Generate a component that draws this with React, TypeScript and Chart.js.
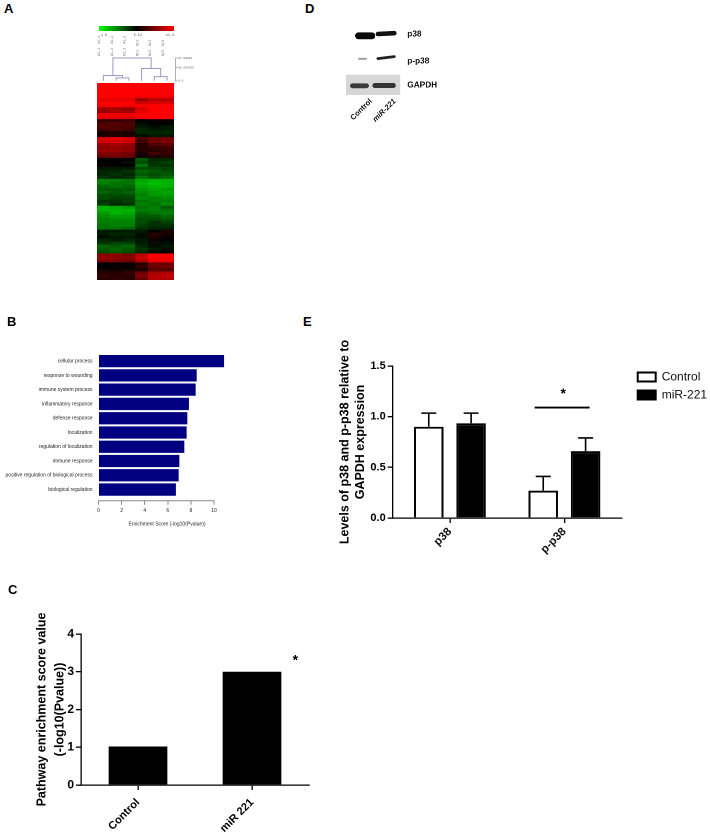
import React, { useEffect, useRef } from "react";
import Chart from "chart.js/auto";

const SANS = "'Liberation Sans', Arial, sans-serif";
const MONO = "'Liberation Mono', monospace";

// Panel A
const sampleNames = ["A1,1  A1,1", "A1,2  A1,2", "A1,3  A1,3", "NC1  NC1", "NC2  NC2", "NC3  NC3"];
const sampleColumns = ["S1", "S2", "S3", "S4", "S5", "S6"];
const colorScaleRange = [-1.5, 11.3];
const colorScaleTicks = [-1.5, 5.12, 11.3];
const distanceTicks = [0, 50.032755, 87.06891];
const distanceLabels = ["0.0", "50.032755", "87.06891"];
const dendrogramMerges = [
  [[1.5, 0], [1.5, 11], [2.5, 11], [2.5, 0]],
  [[0.5, 0], [0.5, 20], [2, 20], [2, 11]],
  [[4.5, 0], [4.5, 16], [5.5, 16], [5.5, 0]],
  [[3.5, 0], [3.5, 47], [5, 47], [5, 16]],
  [[1.25, 20], [1.25, 87], [4.25, 87], [4.25, 47]],
];
const heatRows = [
  [1, 1, 1, 1, 1, 1], [1, 1, 1, 1, 1, 1], [1, 1, 1, 1, 1, 1], [1, 1, 1, 1, 1, 1],
  [1, 1, 1, 0.95, 0.95, 0.95], [0.9, 0.9, 0.9, 0.6, 0.7, 0.7], [1, 1, 1, 0.8, 0.85, 0.85], [0.95, 1, 0.95, 1, 1, 1],
  [0.65, 0.65, 0.6, 0.85, 1, 1], [0.6, 0.65, 0.65, 0.9, 1, 1], [0.95, 0.95, 0.95, 1, 1, 1], [0.9, 0.9, 0.85, 0.95, 1, 1],
  [0.2, 0.2, 0.25, 0, 0.05, 0.05], [0.3, 0.35, 0.3, -0.05, 0, 0], [0.35, 0.3, 0.3, -0.1, -0.05, -0.1], [0.25, 0.3, 0.25, -0.15, -0.1, -0.1],
  [0.1, 0.1, 0.1, -0.15, -0.15, -0.15], [0.1, 0.15, 0.1, -0.05, -0.1, -0.1], [0.85, 0.9, 0.85, 0.3, 0.4, 0.45], [0.8, 0.85, 0.8, 0.25, 0.45, 0.5],
  [0.6, 0.65, 0.6, 0.15, 0.3, 0.35], [0.55, 0.6, 0.55, 0.15, 0.2, 0.25], [0.6, 0.6, 0.55, 0.15, 0.15, 0.2], [0.5, 0.5, 0.45, 0.1, 0.25, 0.2],
  [0.4, 0.45, 0.4, 0.05, 0.1, 0.15], [0, 0, 0, -0.35, -0.15, -0.15], [0, 0, -0.05, -0.3, -0.2, -0.25], [0.05, 0, 0, -0.45, -0.2, -0.2],
  [-0.1, -0.1, -0.1, -0.3, -0.3, -0.25], [-0.15, -0.15, -0.2, -0.4, -0.35, -0.3], [-0.15, -0.2, -0.15, -0.35, -0.3, -0.35], [-0.2, -0.15, -0.2, -0.45, -0.35, -0.4],
  [-0.5, -0.5, -0.45, -0.65, -0.7, -0.7], [-0.5, -0.45, -0.45, -0.7, -0.75, -0.7], [-0.4, -0.45, -0.4, -0.65, -0.7, -0.7], [-0.35, -0.35, -0.35, -0.6, -0.65, -0.6],
  [-0.4, -0.35, -0.4, -0.55, -0.6, -0.65], [-0.3, -0.3, -0.3, -0.5, -0.6, -0.6], [-0.3, -0.25, -0.25, -0.55, -0.5, -0.55], [-0.2, -0.2, -0.25, -0.45, -0.5, -0.5],
  [-0.25, -0.15, -0.2, -0.5, -0.45, -0.55], [-0.7, -0.65, -0.6, -0.45, -0.5, -0.35], [-0.7, -0.7, -0.7, -0.5, -0.5, -0.45], [-0.6, -0.7, -0.65, -0.4, -0.45, -0.5],
  [-0.55, -0.6, -0.6, -0.35, -0.35, -0.4], [-0.5, -0.55, -0.55, -0.3, -0.3, -0.35], [-0.5, -0.5, -0.5, -0.3, -0.2, -0.25], [-0.45, -0.5, -0.5, -0.25, -0.2, -0.2],
  [-0.45, -0.45, -0.4, -0.2, -0.15, -0.15], [-0.1, -0.1, -0.1, -0.1, 0, 0.1], [-0.1, -0.15, -0.15, -0.05, 0.15, 0.1], [-0.05, -0.1, -0.1, -0.05, 0.1, 0.05],
  [-0.15, -0.1, -0.15, -0.1, 0.05, 0], [-0.2, -0.25, -0.25, -0.1, -0.05, -0.05], [-0.4, -0.35, -0.4, -0.15, -0.05, -0.1], [-0.35, -0.4, -0.35, -0.2, -0.1, -0.05],
  [-0.3, -0.35, -0.3, -0.15, -0.05, 0], [0.55, 0.55, 0.5, 0.75, 1, 1], [0.6, 0.55, 0.55, 0.8, 1, 1], [0.5, 0.5, 0.45, 0.7, 0.9, 0.95],
  [0, 0, 0.05, 0.15, 0.45, 0.4], [0, 0.05, 0, 0.2, 0.4, 0.45], [0.1, 0.05, 0.1, 0.1, 0.35, 0.3], [0.15, 0.15, 0.2, 0.45, 0.65, 0.7],
  [0.2, 0.15, 0.15, 0.5, 0.7, 0.75], [0.15, 0.2, 0.15, 0.4, 0.7, 0.7],
];

// Panel B
const goTerms = [
  "cellular process", "response to wounding", "immune system process", "inflammatory response", "defense response",
  "localization", "regulation of localization", "immune response", "positive regulation of biological process", "biological regulation",
];
const goScores = [10.87, 8.5, 8.41, 7.83, 7.69, 7.63, 7.43, 7.0, 6.94, 6.7];
const enrichmentTicks = [0, 2, 4, 6, 8, 10];

// Panel C
const pathwayGroups = ["Control", "miR 221"];
const pathwayScores = [1.02, 3.0];

// Panel D
const blotLanes = [25, 49];
const blotLaneNames = ["Control", "miR-221"];
const blotRowPositions = [13, 40, 64];
const blotRowNames = ["p38", "p-p38", "GAPDH"];
const blotBackdrop = [[0, 63.85], [54.4, 63.85]];
const bandP38Control = [[12.5, 14.8], [26, 14.8]];
const bandP38Mir = [[32, 13], [48.5, 12.2]];
const bandPhosphoControl = [[13, 37.8], [20, 37.8]];
const bandPhosphoMir = [[32, 37.6], [48.5, 35.6]];
const bandGapdhControl = [[6.5, 64.8], [20.5, 64.8]];
const bandGapdhMir = [[29, 64.5], [47.5, 64.5]];

// Panel E
const proteins = ["p38", "p-p38"];
const controlLevels = [0.9, 0.27];
const mirLevels = [0.935, 0.66];
const controlErrorTops = [1.035, 0.41];
const mirErrorTops = [1.035, 0.79];
const significanceY = 1.09;
const significanceSpan = [0.74, 1.22];

const fit = (size: number) => (s: any) => {
  if (s.isHorizontal()) s.height = size;
  else s.width = size;
};

const heatColor = (v: number) =>
  v >= 0 ? `rgb(${Math.round(255 * v)},0,0)` : `rgb(0,${Math.round(-255 * v)},0)`;

const toXY = (pts: number[][]) => pts.map(([x, y]) => ({ x, y }));

const asterisk = (chart: any, xVal: number, yVal: number, size: number) => {
  const { ctx, scales } = chart;
  ctx.save();
  ctx.fillStyle = "#000";
  ctx.font = `bold ${size}px ${SANS}`;
  ctx.textAlign = "center";
  ctx.textBaseline = "middle";
  ctx.fillText("*", scales.x.getPixelForValue(xVal), scales.y.getPixelForValue(yVal));
  ctx.restore();
};

const configs: Record<string, any> = {
  colorBar: {
    type: "bar",
    data: {
      labels: ["scale"],
      datasets: [{
        data: [colorScaleRange],
        barPercentage: 1,
        categoryPercentage: 1,
        backgroundColor: (c: any) => {
          const a = c.chart.chartArea;
          if (!a) return "#000";
          const g = c.chart.ctx.createLinearGradient(a.left, 0, a.right, 0);
          g.addColorStop(0, "#00ff00");
          g.addColorStop(0.5, "#000000");
          g.addColorStop(1, "#ff0000");
          return g;
        },
      }],
    },
    options: {
      indexAxis: "y",
      layout: { padding: { top: 6, right: 8 } },
      plugins: { legend: { display: false }, tooltip: { enabled: false } },
      scales: {
        y: { display: false },
        x: {
          min: colorScaleRange[0],
          max: colorScaleRange[1],
          afterBuildTicks: (s: any) => { s.ticks = colorScaleTicks.map((value) => ({ value })); },
          afterFit: fit(9),
          border: { display: false },
          grid: { display: false, drawTicks: false },
          ticks: {
            align: "inner",
            autoSkip: false,
            maxRotation: 0,
            padding: 2,
            color: "#444",
            font: { size: 3.4, family: MONO },
            callback: (v: number) => String(v),
          },
        },
      },
    },
  },
  dendrogram: {
    type: "scatter",
    data: {
      datasets: dendrogramMerges.map((m) => ({
        data: toXY(m),
        showLine: true,
        borderColor: "#9a9ac4",
        borderWidth: 1,
        pointRadius: 0,
        clip: false,
      })),
    },
    options: {
      plugins: { legend: { display: false }, tooltip: { enabled: false } },
      scales: {
        x: {
          type: "linear",
          position: "top",
          min: 0,
          max: 6.18,
          afterBuildTicks: (s: any) => { s.ticks = sampleNames.map((_, i) => ({ value: i + 0.5 })); },
          afterFit: fit(24),
          border: { display: false },
          grid: { display: false, drawTicks: false },
          ticks: {
            autoSkip: false,
            minRotation: 90,
            maxRotation: 90,
            padding: 2,
            color: "#666",
            font: { size: 3.4, family: MONO },
            callback: (v: number) => sampleNames[Math.round(v - 0.5)],
          },
        },
        y: {
          position: "right",
          min: 0,
          max: 87.06891,
          afterBuildTicks: (s: any) => { s.ticks = distanceTicks.map((value) => ({ value })); },
          afterFit: fit(34.3),
          border: { color: "#777", width: 0.6 },
          grid: { drawOnChartArea: false, tickLength: 2, color: "#777", lineWidth: 0.6 },
          ticks: {
            autoSkip: false,
            padding: 0.5,
            color: "#555",
            font: { size: 2.9, family: MONO },
            callback: (_: any, i: number) => distanceLabels[i],
          },
        },
      },
    },
  },
  heatmap: {
    type: "bar",
    data: {
      labels: sampleColumns,
      datasets: heatRows.map((row, i) => ({
        data: row.map(() => [i, i + 1]),
        backgroundColor: row.map(heatColor),
        grouped: false,
        barPercentage: 1,
        categoryPercentage: 1,
        borderWidth: 0,
      })),
    },
    options: {
      plugins: { legend: { display: false }, tooltip: { enabled: false } },
      scales: {
        x: { display: false },
        y: { display: false, reverse: true, min: 0, max: heatRows.length },
      },
    },
  },
  enrichment: {
    type: "bar",
    data: {
      datasets: [{
        data: goScores.map((x, i) => ({ x, y: i + 1 })),
        backgroundColor: "#000080",
        barPercentage: 0.86,
        categoryPercentage: 1,
      }],
    },
    options: {
      indexAxis: "y",
      layout: { padding: { top: 14, right: 4.5 } },
      plugins: { legend: { display: false }, tooltip: { enabled: false } },
      scales: {
        x: {
          type: "linear",
          min: 0,
          max: 11.86,
          afterBuildTicks: (s: any) => { s.ticks = enrichmentTicks.map((value) => ({ value })); },
          afterFit: fit(29.3),
          border: { display: false },
          grid: { drawOnChartArea: false, tickLength: 4, color: "#888" },
          ticks: { autoSkip: false, padding: 3, color: "#222", maxRotation: 0, font: { size: 5, family: SANS } },
          title: {
            display: true,
            text: "Enrichment Score (-log10(Pvalue))",
            color: "#222",
            padding: { top: 0, bottom: 3 },
            font: { size: 5, weight: "normal", family: SANS },
          },
        },
        y: {
          type: "linear",
          reverse: true,
          offset: false,
          min: 0.5,
          max: 10.78,
          afterBuildTicks: (s: any) => { s.ticks = goTerms.map((_, i) => ({ value: i + 1 })); },
          afterFit: fit(98.5),
          border: { display: false },
          grid: { display: false, drawTicks: false },
          ticks: {
            autoSkip: false,
            padding: 6,
            color: "#222",
            font: { size: 5, family: SANS },
            callback: (v: number) => goTerms[v - 1],
          },
        },
      },
    },
    plugins: [{
      id: "axisLine",
      afterDatasetsDraw: (c: any) => {
        const { ctx, scales, chartArea } = c;
        ctx.save();
        ctx.strokeStyle = "#888";
        ctx.lineWidth = 1;
        ctx.beginPath();
        ctx.moveTo(scales.x.getPixelForValue(enrichmentTicks[0]), chartArea.bottom);
        ctx.lineTo(scales.x.getPixelForValue(enrichmentTicks[enrichmentTicks.length - 1]), chartArea.bottom);
        ctx.stroke();
        ctx.restore();
      },
    }],
  },
  pathway: {
    type: "bar",
    data: {
      labels: pathwayGroups,
      datasets: [{ data: pathwayScores, backgroundColor: "#000", barPercentage: 0.515, categoryPercentage: 1 }],
    },
    options: {
      layout: { padding: { top: 34, right: 11 } },
      plugins: { legend: { display: false }, tooltip: { enabled: false } },
      scales: {
        x: {
          afterFit: fit(49),
          border: { color: "#000", width: 1.3 },
          grid: { offset: false, drawOnChartArea: false, tickLength: 5, color: "#000", lineWidth: 1.3 },
          ticks: { minRotation: 45, maxRotation: 45, padding: 6, color: "#000", font: { size: 11, weight: "bold", family: SANS } },
        },
        y: {
          min: 0,
          max: 4,
          afterFit: fit(51),
          border: { color: "#000", width: 1.3 },
          grid: { drawOnChartArea: false, tickLength: 5, color: "#000", lineWidth: 1.3 },
          ticks: { stepSize: 1, padding: 2, color: "#000", font: { size: 12, weight: "bold", family: SANS } },
          title: {
            display: true,
            text: ["Pathway enrichment score value", "(-log10(Pvalue))"],
            color: "#000",
            padding: { top: 3, bottom: 0 },
            font: { size: 12.5, weight: "bold", family: SANS, lineHeight: 1.45 },
          },
        },
      },
    },
    plugins: [{ id: "star", afterDatasetsDraw: (c: any) => asterisk(c, 1.38, 3.3, 14) }],
  },
  blot: {
    type: "scatter",
    data: {
      datasets: [
        { data: toXY(bandP38Control), borderColor: "#0a0a0a", borderWidth: 6.8, borderCapStyle: "round" },
        { data: toXY(bandP38Mir), borderColor: "#111", borderWidth: 4.6, borderCapStyle: "round" },
        { data: toXY(bandPhosphoControl), borderColor: "#999", borderWidth: 1.8, borderCapStyle: "round" },
        { data: toXY(bandPhosphoMir), borderColor: "#222", borderWidth: 2.8, borderCapStyle: "round" },
        { data: toXY(bandGapdhControl), borderColor: "#3a3a3a", borderWidth: 4.8, borderCapStyle: "round" },
        { data: toXY(bandGapdhMir), borderColor: "#333", borderWidth: 5, borderCapStyle: "round" },
        { data: toXY(blotBackdrop), borderColor: "#d6d6d6", borderWidth: 20.3 },
      ].map((d) => ({ ...d, showLine: true, pointRadius: 0, clip: false })),
    },
    options: {
      layout: { padding: { top: 16 } },
      plugins: { legend: { display: false }, tooltip: { enabled: false } },
      scales: {
        x: {
          type: "linear",
          min: 0,
          max: 54.4,
          afterBuildTicks: (s: any) => { s.ticks = blotLanes.map((value) => ({ value })); },
          afterFit: fit(35),
          border: { display: false },
          grid: { display: false, drawTicks: false },
          ticks: {
            autoSkip: false,
            minRotation: 45,
            maxRotation: 45,
            padding: 2,
            color: "#111",
            font: (c: any) => ({ size: 7.5, weight: "bold", family: SANS, style: c.index === 1 ? "italic" : "normal" }),
            callback: (_: any, i: number) => blotLaneNames[i],
          },
        },
        y: {
          type: "linear",
          position: "right",
          reverse: true,
          min: 0,
          max: 74,
          afterBuildTicks: (s: any) => { s.ticks = blotRowPositions.map((value) => ({ value })); },
          afterFit: fit(59.3),
          border: { display: false },
          grid: { display: false, drawTicks: false },
          ticks: {
            autoSkip: false,
            padding: 7,
            color: "#111",
            font: { size: 8.2, weight: "bold", family: SANS },
            callback: (_: any, i: number) => blotRowNames[i],
          },
        },
      },
    },
  },
  levels: {
    type: "bar",
    data: {
      labels: proteins,
      datasets: [
        { label: "Control", data: controlLevels, backgroundColor: "#fff", borderColor: "#000", borderWidth: 2, barPercentage: 0.696, categoryPercentage: 0.74 },
        { label: "miR-221", data: mirLevels, backgroundColor: "#000", borderColor: "#000", borderWidth: 2, barPercentage: 0.696, categoryPercentage: 0.74 },
      ],
    },
    options: {
      layout: { padding: { top: 36, right: 3 } },
      plugins: {
        tooltip: { enabled: false },
        legend: {
          position: "right",
          align: "start",
          labels: { boxWidth: 18, boxHeight: 9, padding: 6, color: "#111", font: { size: 12, family: SANS } },
        },
      },
      scales: {
        x: {
          afterFit: fit(42),
          border: { color: "#000", width: 1.3 },
          grid: { offset: false, drawOnChartArea: false, tickLength: 5, color: "#000", lineWidth: 1.3 },
          ticks: { minRotation: 45, maxRotation: 45, padding: 2, color: "#111", font: { size: 11.5, weight: "bold", family: SANS } },
        },
        y: {
          min: 0,
          max: 1.5,
          afterFit: fit(62.7),
          border: { color: "#000", width: 1.3 },
          grid: { drawOnChartArea: false, tickLength: 5, color: "#000", lineWidth: 1.3 },
          ticks: {
            stepSize: 0.5,
            padding: 2,
            color: "#000",
            font: { size: 11, weight: "bold", family: SANS },
            callback: (v: number) => v.toFixed(1),
          },
          title: {
            display: true,
            text: ["Levels of p38 and p-p38 relative to", "GAPDH expression"],
            color: "#000",
            padding: { top: 7, bottom: 0 },
            font: { size: 12.5, weight: "bold", family: SANS, lineHeight: 1.25 },
          },
        },
      },
    },
    plugins: [{
      id: "annotations",
      afterLayout: (c: any) => {
        const pad = c.options.plugins.legend.labels.padding;
        c.legend.left = 637.7 - 330 - pad;
        c.legend.top = 371 - 330 - pad;
      },
      afterDatasetsDraw: (c: any) => {
        const { ctx, scales } = c;
        ctx.save();
        ctx.strokeStyle = "#000";
        ctx.lineWidth = 1.6;
        [controlErrorTops, mirErrorTops].forEach((tops, ds) => {
          c.getDatasetMeta(ds).data.forEach((bar: any, i: number) => {
            const top = scales.y.getPixelForValue(tops[i]);
            ctx.beginPath();
            ctx.moveTo(bar.x, bar.y);
            ctx.lineTo(bar.x, top);
            ctx.moveTo(bar.x - 7.5, top);
            ctx.lineTo(bar.x + 7.5, top);
            ctx.stroke();
          });
        });
        const y = scales.y.getPixelForValue(significanceY);
        ctx.beginPath();
        ctx.lineWidth = 1.8;
        ctx.moveTo(scales.x.getPixelForValue(significanceSpan[0]), y);
        ctx.lineTo(scales.x.getPixelForValue(significanceSpan[1]), y);
        ctx.stroke();
        ctx.restore();
        asterisk(c, 0.99, 1.22, 14);
      },
    }],
  },
};

const panels = [
  { key: "colorBar", left: 97, top: 20, width: 85, height: 20 },
  { key: "dendrogram", left: 97, top: 33.7, width: 113, height: 49 },
  { key: "heatmap", left: 97, top: 83, width: 77, height: 197, blur: 0.4 },
  { key: "enrichment", left: 0, top: 340, width: 240, height: 190, blur: 0.25 },
  { key: "pathway", left: 30, top: 600, width: 290, height: 234 },
  { key: "blot", left: 346.3, top: 5, width: 113.7, height: 125, blur: 0.4 },
  { key: "levels", left: 330, top: 330, width: 380, height: 230 },
];

const letters = [
  { text: "A", left: 4, top: 2 },
  { text: "B", left: 7, top: 315 },
  { text: "C", left: 8, top: 583 },
  { text: "D", left: 305, top: 2 },
  { text: "E", left: 303, top: 315 },
];

function Panel({ cfgKey, left, top, width, height, blur }: any) {
  const ref = useRef<HTMLCanvasElement | null>(null);
  useEffect(() => {
    const base = configs[cfgKey];
    const chart = new Chart(ref.current as HTMLCanvasElement, {
      ...base,
      options: { ...base.options, animation: false, responsive: false, devicePixelRatio: 2 },
    });
    return () => chart.destroy();
  }, [cfgKey]);
  return (
    <canvas
      ref={ref}
      width={width}
      height={height}
      style={{ position: "absolute", left, top, width, height, filter: blur ? `blur(${blur}px)` : undefined }}
    />
  );
}

export default function App() {
  return (
    <div style={{ position: "absolute", left: 0, top: 0, width: 710, height: 834, overflow: "hidden", background: "#fff" }}>
      {panels.map((p) => (
        <Panel key={p.key} cfgKey={p.key} left={p.left} top={p.top} width={p.width} height={p.height} blur={p.blur} />
      ))}
      {letters.map((l) => (
        <div key={l.text} style={{ position: "absolute", left: l.left, top: l.top, font: `bold 13px/13px ${SANS}`, color: "#000" }}>
          {l.text}
        </div>
      ))}
    </div>
  );
}
